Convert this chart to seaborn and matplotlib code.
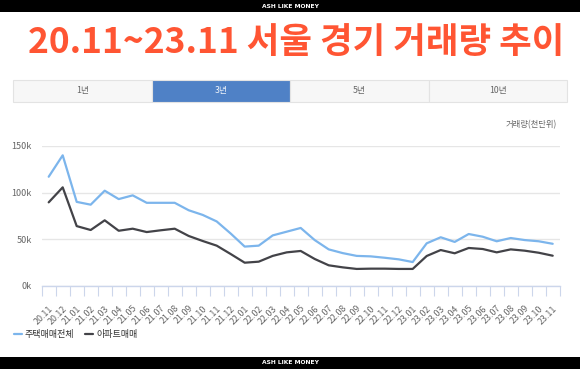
import matplotlib
matplotlib.use("Agg")
import matplotlib.pyplot as plt
from matplotlib.patches import Rectangle
import seaborn as sns
import pandas as pd

# ---------------- data ----------------
months = ["20.11", "20.12",
          "21.01", "21.02", "21.03", "21.04", "21.05", "21.06", "21.07", "21.08", "21.09", "21.10", "21.11", "21.12",
          "22.01", "22.02", "22.03", "22.04", "22.05", "22.06", "22.07", "22.08", "22.09", "22.10", "22.11", "22.12",
          "23.01", "23.02", "23.03", "23.04", "23.05", "23.06", "23.07", "23.08", "23.09", "23.10", "23.11"]
house_total = [117, 140, 90, 87, 102, 93, 97, 89, 89, 89, 81, 76, 69, 56,
               42, 43, 54, 58, 62, 49, 39, 35, 32, 31.5, 30, 28.3,
               25.4, 45.5, 52, 47, 55.5, 52.6, 47.7, 51.2, 49, 47.7, 45]
apartment = [89.5, 105.6, 64, 59.8, 70.2, 59, 61.2, 57.6, 59.5, 61.2, 53.4, 48, 43, 34,
             24.7, 25.8, 32, 35.8, 37.3, 28.7, 21.9, 19.7, 18, 18.3, 18.3, 18,
             18, 31.9, 38.3, 34.8, 40.5, 39.4, 35.8, 39, 37.6, 35.4, 32.2]
series_names = ["주택매매전체", "아파트매매"]
y_ticks = [0, 50000, 100000, 150000]
y_tick_labels = ["0k", "50k", "100k", "150k"]
tabs = ["1년", "3년", "5년", "10년"]
title = "20.11~23.11 서울 경기 거래량 추이"
unit_label = "거래량(천단위)"
brand = "ASH LIKE MONEY"

df = pd.DataFrame({
    "idx": list(range(len(months))) * 2,
    "value": [v * 1000 for v in house_total] + [v * 1000 for v in apartment],
    "series": [series_names[0]] * len(months) + [series_names[1]] * len(months),
})

# ---------------- style ----------------
sns.set_style("white")
plt.rcParams["font.family"] = ["Noto Sans CJK KR", "DejaVu Sans"]

W, H = 580, 369
fig = plt.figure(figsize=(W / 100, H / 100), dpi=100)
fig.patch.set_facecolor("white")

def fx(px):
    return px / W

def fy(py):
    return 1 - py / H

# top and bottom black bars
fig.patches.append(Rectangle((0, fy(12)), 1, 12 / H, transform=fig.transFigure,
                             facecolor="black", edgecolor="none", zorder=0))
fig.patches.append(Rectangle((0, 0), 1, 12 / H, transform=fig.transFigure,
                             facecolor="black", edgecolor="none", zorder=0))
fig.text(0.5, fy(6), brand, color="white", fontsize=4.3, fontweight="black",
         ha="center", va="center", family="DejaVu Sans")
fig.text(0.5, fy(363), brand, color="white", fontsize=4.3, fontweight="black",
         ha="center", va="center", family="DejaVu Sans")

# title
fig.text(fx(296), fy(43), title, color="#FF5533", fontsize=25.5, fontweight="black",
         ha="center", va="center")

# tabs
tab_left, tab_w, tab_top, tab_h = 13, 138.5, 80, 22
for i, t in enumerate(tabs):
    x0 = tab_left + i * tab_w
    active = (i == 1)
    fig.patches.append(Rectangle((fx(x0), fy(tab_top + tab_h)), tab_w / W, tab_h / H,
                                 transform=fig.transFigure,
                                 facecolor="#4F81C6" if active else "#F7F7F7",
                                 edgecolor="#E3E3E3", linewidth=0.8, zorder=1))
    fig.text(fx(x0 + tab_w / 2), fy(tab_top + tab_h / 2), t,
             color="#F0F4FA" if active else "#666666", fontsize=6.3,
             ha="center", va="center", zorder=2)

# unit label
fig.text(fx(557), fy(124.5), unit_label, color="#666666", fontsize=6,
         ha="right", va="center")

# ---------------- chart ----------------
ax = fig.add_axes([fx(41.7), fy(285.7), (559.7 - 41.7) / W, (285.7 - 146) / H])
palette = {series_names[0]: "#7CB5EC", series_names[1]: "#434348"}
sns.lineplot(data=df, x="idx", y="value", hue="series", palette=palette,
             linewidth=1.6, ax=ax, legend=True)

ax.set_xlim(-0.5, len(months) - 0.5)
ax.set_ylim(0, 150000)
ax.set_xlabel("")
ax.set_ylabel("")

ax.set_yticks(y_ticks)
ax.set_yticklabels(y_tick_labels)
ax.yaxis.grid(True, color="#E6E6E6", linewidth=1)
ax.xaxis.grid(False)
for s in ["top", "right", "left"]:
    ax.spines[s].set_visible(False)
ax.spines["bottom"].set_color("#CCD6EB")
ax.spines["bottom"].set_linewidth(1)
ax.tick_params(axis="y", length=0, pad=7, labelsize=6.5, labelcolor="#666666")

ax.set_xticks(range(len(months)))
ax.set_xticklabels(months, rotation=45, ha="right", va="top", rotation_mode="anchor")
ax.set_xticks([i - 0.5 for i in range(len(months) + 1)], minor=True)
ax.tick_params(axis="x", which="major", bottom=True, length=0, pad=13,
               labelsize=6.4, labelcolor="#666666")
ax.tick_params(axis="x", which="minor", bottom=True, length=7.5, width=0.8,
               color="#CCD6EB", direction="out")
ax.set_axisbelow(True)

# legend
handles, labels = ax.get_legend_handles_labels()
leg = ax.legend(handles, labels, loc="center left",
                bbox_to_anchor=(fx(14), fy(335)), bbox_transform=fig.transFigure,
                ncol=2, frameon=False, fontsize=6.5, handlelength=0.9,
                handletextpad=0.3, columnspacing=1.2, borderaxespad=0, borderpad=0)
for t in leg.get_texts():
    t.set_color("#333333")

fig.savefig("out.png", dpi=100)
